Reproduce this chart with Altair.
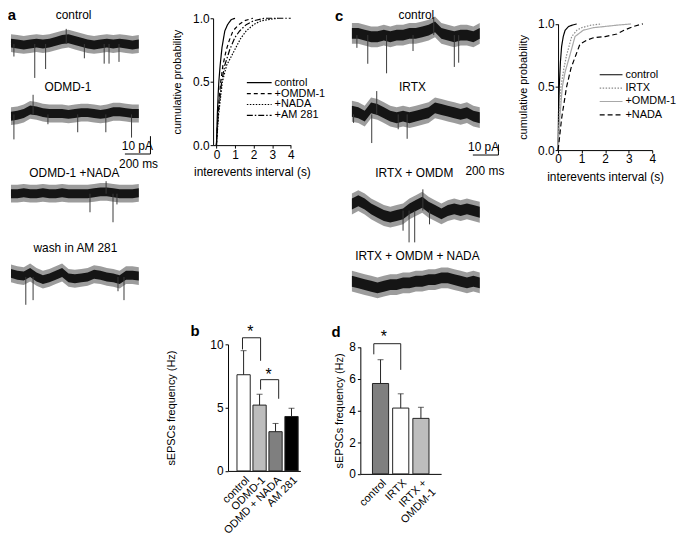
import altair as alt
import pandas as pd

# ---------------- layout (target pixel coordinates; page margin M) ----------------
W, H = 675, 527
M = 8
FONT = "Liberation Sans"
ONE = pd.DataFrame({"k": [0]})

# ---------------- data: example traces (pA, + = upward), sampled every 50 ms over 1 s ----------------
a_ctrl_wave = [0.5, 0, -0.5, 0, 0.5, 0, 0.5, 1.5, 2.5, 3, 2, 1, 0, -0.5, 0, 0.5, 0, 0.5, 0, -0.5, 0]
a_ctrl_ev_t = [23, 186, 271, 574, 729, 767, 845]
a_ctrl_ev_amp = [7, 19, 14, 8, 11, 11, 10]
a_ctrl_up_t = [432]
a_ctrl_up_amp = [8.5]

a_odmd_wave = [-1, -0.5, 0.5, 2.5, 2, 1, 0.5, 0.5, 0.5, 0, 0.5, 1, 1, 0.5, 0, 0.5, 1.5, 1.5, 1, 0.5, 0.5]
a_odmd_ev_t = [23, 289, 522, 742, 943]
a_odmd_ev_amp = [14, 5.5, 10, 10, 13]
a_odmd_up_t = [173]
a_odmd_up_amp = [11]

a_nada_wave = [0, 0, 0.5, 0, 0, 0.5, 0, 0, 0.5, 0, 0, 0, 0, 0.5, 1, 1, 0.5, 0, 0, 0, 0.5]
a_nada_ev_t = [618, 798, 829]
a_nada_ev_amp = [10.4, 16, 6]
a_nada_up_t = [744]
a_nada_up_amp = [7]

a_wash_wave = [2, 1, 0.5, 2.5, 0, -1.5, -0.5, 1, 2.5, -0.5, -1, -0.5, 0, 1.5, 1, 0, -0.5, -1.5, 1, 1, 0.5]
a_wash_ev_t = [116, 173, 837, 884]
a_wash_ev_amp = [15.6, 13, 8, 13]
a_wash_up_t = []
a_wash_up_amp = []

c_ctrl_wave = [1.6, 1.6, 0, -1.6, -1.6, 0, -1.6, 0, 0, 1.6, 1.6, 3.1, 4.7, 7.8, 1.6, 0, -1.6, 0, 0, -1.6, 1.6]
c_ctrl_ev_t = [39, 124, 271, 478, 801, 835]
c_ctrl_ev_amp = [12, 27, 36, 15, 30, 26]
c_ctrl_up_t = [640]
c_ctrl_up_amp = [17]

c_irtx_wave = [3, 1.6, -1.6, 6.2, 4.7, 1.6, -1.6, -3.1, -1.6, -3.1, -1.6, 0, 1.6, 6.2, 4.7, 3.1, 1.6, 0, 1.6, -1.6, -3.1]
c_irtx_ev_t = [13, 155, 362, 432]
c_irtx_ev_amp = [8, 27, 14, 23]
c_irtx_up_t = [194]
c_irtx_up_amp = [22]

c_omdm_wave = [6.2, 9.3, 6.2, 1.6, -1.6, -4.7, -6.2, -4.7, -3.1, 1.6, 4.7, 7.8, 3.1, 0, -3.1, 0, 1.6, 0, 1.6, 0, -1.6]
c_omdm_ev_t = [400, 447, 491, 607]
c_omdm_ev_amp = [19, 30, 30, 13]
c_omdm_up_t = [555]
c_omdm_up_amp = [20]

c_nada_wave = [1.6, 0, -1.6, -3.1, -4.7, -3.1, -1.6, -1.6, 0, 0, 1.6, 1.6, 3.1, 3.1, 4.7, 4.7, 3.1, 1.6, 0, 1.6, 0]
c_nada_ev_t = []
c_nada_ev_amp = []
c_nada_up_t = []
c_nada_up_amp = []

scalebar_pa = 10
scalebar_ms = 200

# ---------------- data: cumulative distributions (s, probability) ----------------
cumA_names = ["control", "+OMDM-1", "+NADA", "+AM 281"]
cumA_control_x = [0, 0.05, 0.1, 0.13, 0.2, 0.3, 0.45, 0.6, 0.8, 1.0]
cumA_control_p = [0, 0.25, 0.42, 0.5, 0.63, 0.77, 0.9, 0.95, 0.99, 1.0]
cumA_omdm_x = [0, 0.05, 0.1, 0.23, 0.35, 0.53, 0.7, 0.89, 1.2, 1.5, 1.96]
cumA_omdm_p = [0, 0.15, 0.28, 0.5, 0.63, 0.75, 0.83, 0.9, 0.95, 0.98, 1.0]
cumA_nada_x = [0, 0.05, 0.1, 0.32, 0.55, 0.98, 1.3, 1.6, 2.0, 2.4, 2.8, 3.3]
cumA_nada_p = [0, 0.1, 0.22, 0.5, 0.63, 0.75, 0.84, 0.9, 0.95, 0.98, 0.99, 1.0]
cumA_am_x = [0, 0.05, 0.1, 0.28, 0.45, 0.71, 1.0, 1.25, 1.6, 2.0, 2.58, 4.0]
cumA_am_p = [0, 0.12, 0.25, 0.5, 0.63, 0.75, 0.85, 0.9, 0.95, 0.98, 1.0, 1.0]

cumC_names = ["control", "IRTX", "+OMDM-1", "+NADA"]
cumC_control_x = [0, 0.02, 0.05, 0.1, 0.15, 0.22, 0.3, 0.45, 0.6, 0.79]
cumC_control_p = [0, 0.3, 0.5, 0.7, 0.82, 0.9, 0.95, 0.98, 0.99, 1.0]
cumC_irtx_x = [0, 0.05, 0.12, 0.25, 0.36, 0.58, 0.8, 1.0, 1.4, 1.85]
cumC_irtx_p = [0, 0.3, 0.5, 0.65, 0.75, 0.9, 0.95, 0.97, 0.99, 1.0]
cumC_omdm_x = [0, 0.05, 0.18, 0.3, 0.5, 0.72, 1.07, 1.5, 2.0, 2.5, 3.1]
cumC_omdm_p = [0, 0.2, 0.5, 0.62, 0.75, 0.9, 0.95, 0.97, 0.98, 0.99, 1.0]
cumC_nada_x = [0, 0.05, 0.15, 0.36, 0.55, 0.75, 0.93, 1.2, 1.5, 2.0, 2.5, 2.8, 3.2, 3.6]
cumC_nada_p = [0, 0.08, 0.25, 0.5, 0.65, 0.75, 0.84, 0.87, 0.89, 0.9, 0.92, 0.95, 0.98, 1.0]

# ---------------- data: bar charts (Hz) ----------------
b_cats = ["control", "ODMD-1", "ODMD + NADA", "AM 281"]
b_mean = [7.6, 5.2, 3.1, 4.3]
b_sem = [1.9, 0.85, 0.65, 0.65]
b_br_cat = ["control", "control", "ODMD-1", "ODMD-1", "ODMD-1", "ODMD-1", "ODMD + NADA", "ODMD + NADA"]
b_br_y = [9.6, 10.52, 10.52, 8.7, 6.43, 7.21, 7.21, 5.7]
b_br_g = [1, 1, 1, 1, 2, 2, 2, 2]
b_star_cat = ["control", "ODMD-1"]
b_star_y = [11.25, 7.9]

d_cats = ["control", "IRTX", "IRTX + OMDM-1"]
d_mean = [5.7, 4.15, 3.5]
d_sem = [1.5, 0.9, 0.7]
d_br_cat = ["control", "control", "IRTX", "IRTX"]
d_br_y = [7.54, 8.21, 8.21, 6.56]
d_br_g = [1, 1, 1, 1]
d_star_cat = ["control"]
d_star_y = [8.9]


# ---------------- builders (every unit is a direct layer with explicit scales) ----------------
def txt_unit(text, xsc, ysc, xd, yd, dx=0, dy=0, size=12, weight="normal", baseline="middle"):
    return alt.Chart(ONE).mark_text(text=text, font=FONT, fontSize=size, fontWeight=weight,
                                    baseline=baseline, color="black", dx=dx, dy=dy).encode(
        x=alt.XDatum(xd, scale=xsc, axis=None), y=alt.YDatum(yd, scale=ysc, axis=None))


def trace_units(wave, dn_t, dn_a, up_t, up_a, x0, x1, cy, ppa, core_px, fuzz_px,
                label, label_t, label_dy, bar=None, letter=None):
    n = len(wave)
    df = pd.DataFrame({"t": [i * 1000.0 / (n - 1) for i in range(n)], "v": wave})
    span = 60.0
    xsc = alt.Scale(domain=[0, 1000], range=[x0 - M, x1 - M], nice=False, zero=False)
    ysc = alt.Scale(domain=[-span, span],
                    range=[cy - M + span * ppa, cy - M - span * ppa], nice=False, zero=False)
    units = []
    for half_px, col, op in [(fuzz_px, "#3a3a3a", 0.5), (core_px, "#151515", 1.0)]:
        h = half_px / ppa
        units.append(
            alt.Chart(df)
            .transform_calculate(lo=f"datum.v - {h}", hi=f"datum.v + {h}")
            .mark_area(color=col, opacity=op)
            .encode(x=alt.X("t:Q", scale=xsc, axis=None),
                    y=alt.Y("lo:Q", scale=ysc, axis=None), y2="hi:Q")
        )
    ev_t = list(dn_t) + list(up_t)
    if ev_t:
        ev = pd.DataFrame({"t": ev_t, "y0": [0.0] * len(ev_t),
                           "y1": [-a for a in dn_a] + list(up_a)})
        units.append(
            alt.Chart(ev).mark_rule(color="#3a3a3a", strokeWidth=1)
            .encode(x=alt.X("t:Q", scale=xsc, axis=None),
                    y=alt.Y("y0:Q", scale=ysc, axis=None), y2="y1:Q")
        )
    units.append(txt_unit(label, xsc, ysc, label_t, 0, dy=label_dy))
    if bar:
        t_end, v_base, txt_t, pa_dy, ms_dy = bar
        sb = pd.DataFrame({
            "t0": [t_end - scalebar_ms, t_end], "t1": [t_end, t_end],
            "v0": [v_base, v_base], "v1": [v_base, v_base + scalebar_pa],
        })
        units.append(alt.Chart(sb).mark_rule(color="black", strokeWidth=1).encode(
            x=alt.X("t0:Q", scale=xsc, axis=None), x2="t1:Q",
            y=alt.Y("v0:Q", scale=ysc, axis=None), y2="v1:Q"))
        units.append(txt_unit(f"{scalebar_pa} pA", xsc, ysc, txt_t, v_base, dy=pa_dy,
                              baseline="bottom"))
        units.append(txt_unit(f"{scalebar_ms} ms", xsc, ysc, txt_t + 10, v_base, dy=ms_dy))
    if letter:
        lt, ldx, ldy = letter
        units.append(txt_unit(lt, xsc, ysc, 0, 0, dx=ldx, dy=ldy, size=15, weight="bold"))
    return units


def cum_unit(names, xs_list, ps_list, colors, dashes, x0px, x4px, xmin, y1px, y0px,
             leg_x, leg_y, title_pad, sym_len, label_size, clip_h, row_pad):
    rows = []
    for nm, xs, ps in zip(names, xs_list, ps_list):
        for i, (xv, pv) in enumerate(zip(xs, ps)):
            rows.append({"series": nm, "x": xv, "p": pv, "i": i})
    df = pd.DataFrame(rows)
    k = (x4px - x0px) / 4.0
    left = x0px + xmin * k - M
    xsc = alt.Scale(domain=[xmin, 4], range=[left, x4px - M], nice=False, zero=False)
    ysc = alt.Scale(domain=[0, 1], range=[y0px - M, y1px - M], nice=False, zero=False)
    leg = alt.Legend(orient="none", legendX=leg_x - M, legendY=leg_y - M, title=None,
                     symbolType="stroke", symbolSize=sym_len ** 2, symbolStrokeWidth=1.2,
                     labelFontSize=label_size, labelFont=FONT, labelColor="black",
                     clipHeight=clip_h, rowPadding=row_pad, labelOffset=2, padding=0)
    return alt.Chart(df).mark_line(strokeWidth=1.2).encode(
        x=alt.X("x:Q", scale=xsc, axis=alt.Axis(
            orient="bottom", offset=(y0px - M) - H, values=[0, 1, 2, 3, 4], format="d",
            title="interevents interval (s)", titlePadding=7, titleFontSize=12,
            labelPadding=1)),
        y=alt.Y("p:Q", scale=ysc, axis=alt.Axis(
            orient="left", offset=-left, values=[0, 0.5, 1], format=".1f",
            title="cumulative probability", titlePadding=title_pad, titleFontSize=11,
            labelPadding=1)),
        color=alt.Color("series:N", scale=alt.Scale(domain=names, range=colors), legend=leg),
        strokeDash=alt.StrokeDash("series:N", scale=alt.Scale(domain=names, range=dashes),
                                  legend=leg),
        order="i:Q",
    )


def bar_units(cats, means, sems, fills, x0, x1, y_top, y_zero, ymax, yticks,
              pad_in, pad_out, align, title_pad, br_cat, br_y, br_g, star_cat, star_y,
              star_dx, let_txt, let_dx, let_dy, label_expr=None):
    df = pd.DataFrame({"cat": cats, "mean": means,
                       "top": [m + s for m, s in zip(means, sems)]})
    xsc = alt.Scale(domain=cats, range=[x0 - M, x1 - M], paddingInner=pad_in,
                    paddingOuter=pad_out, align=align)
    ysc = alt.Scale(domain=[0, ymax], range=[y_zero - M, y_top - M], nice=False, zero=False)
    xax = dict(orient="bottom", offset=(y_zero - M) - H, ticks=False, labelAngle=-45,
               labelFontSize=11, labelPadding=3, title=None)
    if label_expr:
        xax["labelExpr"] = label_expr
    bars = alt.Chart(df).mark_bar(stroke="#222", strokeWidth=1).encode(
        x=alt.X("cat:N", scale=xsc, axis=alt.Axis(**xax)),
        y=alt.Y("mean:Q", scale=ysc, axis=alt.Axis(
            orient="left", offset=-(x0 - M), values=yticks, title="sEPSCs frequency (Hz)",
            titlePadding=title_pad, titleFontSize=11, labelPadding=2)),
        fill=alt.Fill("cat:N", scale=alt.Scale(domain=cats, range=fills), legend=None),
    )
    err = alt.Chart(df).mark_rule(color="#222", strokeWidth=1).encode(
        x=alt.X("cat:N", scale=xsc, axis=None),
        y=alt.Y("mean:Q", scale=ysc, axis=None), y2="top:Q")
    cap = alt.Chart(df).mark_tick(color="#222", size=6, thickness=1).encode(
        x=alt.X("cat:N", scale=xsc, axis=None), y=alt.Y("top:Q", scale=ysc, axis=None))
    bdf = pd.DataFrame({"cat": br_cat, "y": br_y, "g": br_g, "i": list(range(len(br_cat)))})
    br = alt.Chart(bdf).mark_line(color="#222", strokeWidth=1).encode(
        x=alt.X("cat:N", scale=xsc, axis=None), y=alt.Y("y:Q", scale=ysc, axis=None),
        detail="g:N", order="i:Q")
    sdf = pd.DataFrame({"cat": star_cat, "y": star_y})
    st = alt.Chart(sdf).mark_text(text="*", font=FONT, fontSize=16, baseline="middle",
                                  dx=star_dx, dy=4, color="black").encode(
        x=alt.X("cat:N", scale=xsc, axis=None), y=alt.Y("y:Q", scale=ysc, axis=None))
    lt = txt_unit(let_txt, xsc, ysc, cats[0], ymax, dx=let_dx, dy=let_dy, size=15,
                  weight="bold")
    return [bars, err, cap, br, st, lt]


# ---------------- panels ----------------
A_X0, A_X1, A_PPA = 11, 140, 1.8
C_X0, C_X1, C_PPA = 355, 484, 1.07

units = []
units += trace_units(a_ctrl_wave, a_ctrl_ev_t, a_ctrl_ev_amp, a_ctrl_up_t, a_ctrl_up_amp,
                     A_X0, A_X1, 42, A_PPA, 4.5, 9, "control", 490, -29,
                     letter=("a", 1, -29))
units += trace_units(a_odmd_wave, a_odmd_ev_t, a_odmd_ev_amp, a_odmd_up_t, a_odmd_up_amp,
                     A_X0, A_X1, 113, A_PPA, 4.5, 9, "ODMD-1", 445, -28,
                     bar=(1091, -22.2, 988, -1, 10))
units += trace_units(a_nada_wave, a_nada_ev_t, a_nada_ev_amp, a_nada_up_t, a_nada_up_amp,
                     A_X0, A_X1, 193, A_PPA, 4.5, 9, "ODMD-1 +NADA", 496, -21)
units += trace_units(a_wash_wave, a_wash_ev_t, a_wash_ev_amp, a_wash_up_t, a_wash_up_amp,
                     A_X0, A_X1, 277, A_PPA, 4.5, 9, "wash in AM 281", 504, -29)
units += trace_units(c_ctrl_wave, c_ctrl_ev_t, c_ctrl_ev_amp, c_ctrl_up_t, c_ctrl_up_amp,
                     C_X0, C_X1, 33, C_PPA, 5.5, 10.5, "control", 504, -20,
                     letter=("c", -13, -19))
units += trace_units(c_irtx_wave, c_irtx_ev_t, c_irtx_ev_amp, c_irtx_up_t, c_irtx_up_amp,
                     C_X0, C_X1, 113, C_PPA, 5.5, 10.5, "IRTX", 473, -28,
                     bar=(1146, -38.3, 1030, -1, 16))
units += trace_units(c_omdm_wave, c_omdm_ev_t, c_omdm_ev_amp, c_omdm_up_t, c_omdm_up_amp,
                     C_X0, C_X1, 210, C_PPA, 5.5, 10.5, "IRTX + OMDM", 488, -38)
units += trace_units(c_nada_wave, c_nada_ev_t, c_nada_ev_amp, c_nada_up_t, c_nada_up_amp,
                     C_X0, C_X1, 283, C_PPA, 5.5, 10.5, "IRTX + OMDM + NADA", 512, -27)
units.append(cum_unit(cumA_names,
                      [cumA_control_x, cumA_omdm_x, cumA_nada_x, cumA_am_x],
                      [cumA_control_p, cumA_omdm_p, cumA_nada_p, cumA_am_p],
                      ["black"] * 4, [[1, 0], [4, 3], [1.5, 1.5], [6, 2, 1.5, 2]],
                      218.3, 293.3, -0.18, 16, 144, 248, 76, 10, 25, 11, 10, 0))
units.append(cum_unit(cumC_names,
                      [cumC_control_x, cumC_irtx_x, cumC_omdm_x, cumC_nada_x],
                      [cumC_control_p, cumC_irtx_p, cumC_omdm_p, cumC_nada_p],
                      ["black", "#8a8a8a", "#a8a8a8", "black"],
                      [[1, 0], [1.5, 1.5], [1, 0], [5, 3]],
                      563, 658, 0, 21.7, 149, 604, 67, 9, 23, 11, 12, 1.5))
units += bar_units(b_cats, b_mean, b_sem, ["white", "#bdbdbd", "#7f7f7f", "black"],
                   230, 303, 345, 472.7, 10, [0, 5, 10], 0.17, 0.35, 0.8, 34,
                   b_br_cat, b_br_y, b_br_g, b_star_cat, b_star_y, 8, "b", -48, -13)
units += bar_units(d_cats, d_mean, d_sem, ["#7f7f7f", "white", "#bdbdbd"],
                   363.5, 445, 347.7, 475.7, 8, [0, 2, 4, 6, 8], 0.2, 0.6, 0.5, 4,
                   d_br_cat, d_br_y, d_br_g, d_star_cat, d_star_y, 10, "d", -38, -15,
                   label_expr="datum.value == 'IRTX + OMDM-1' ? ['IRTX +', 'OMDM-1'] : datum.label")

chart = (
    alt.layer(*units)
    .resolve_scale(x="independent", y="independent", color="independent",
                   strokeDash="independent", fill="independent")
    .resolve_axis(x="independent", y="independent")
    .resolve_legend(color="independent", strokeDash="independent")
    .properties(width=W, height=H, padding=0, autosize=alt.AutoSizeParams(type="none"))
    .configure_view(stroke=None)
    .configure_axis(labelFont=FONT, titleFont=FONT, labelFontSize=12, labelColor="black",
                    titleColor="black", domainColor="black", tickColor="black", tickSize=3,
                    grid=False, titleFontWeight="normal", labelFlush=False,
                    labelOverlap=False, domainWidth=1, tickWidth=1)
)

chart.save("out.html", embed_options={"renderer": "svg", "actions": False})
